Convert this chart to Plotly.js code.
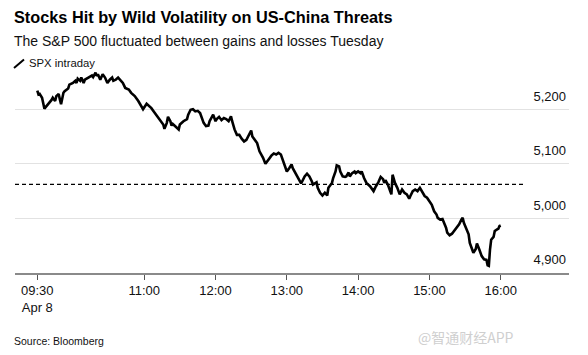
<!DOCTYPE html>
<html><head><meta charset="utf-8">
<script src="https://cdn.plot.ly/plotly-3.0.1.min.js"></script>
<style>html,body{margin:0;padding:0;background:#fff}#chart{width:588px;height:355px}</style>
</head><body><div id="chart"></div>
<script>
const sessionDate = "2025-04-08";
const minutesAfterOpen = [0,1,2,4,6,8,11,12,13,15,16,18,19,20,22,23,26,27,30,32,33,34,36,37,39,40,43,46,47,49,50,51,53,54,55,57,59,61,63,64,66,68,70,72,74,77,79,82,85,86,89,92,94,96,98,100,102,104,106,107,109,110,112,113,114,117,119,120,123,126,127,129,131,133,135,137,138,140,142,144,145,147,148,150,151,153,155,157,159,161,163,164,166,168,170,172,174,176,178,180,181,183,185,187,190,192,194,195,197,199,201,203,205,206,208,210,212,214,215,218,220,222,223,225,227,229,231,232,235,236,238,240,242,244,245,246,248,249,251,252,254,255,257,259,260,262,263,265,267,268,270,272,273,275,277,280,283,285,287,289,291,292,293,295,297,298,299,301,303,305,307,309,311,313,314,316,318,320,322,324,326,328,330,332,334,336,337,339,341,343,344,345,347,349,351,352,355,357,358,359,361,363,364,366,367,369,370,372,374,376,378,379,380,381,382,384,385,387,388,389,390];
const spxValues = [5234,5227,5228,5221,5201,5206,5215,5217,5221,5215,5224,5228,5218,5209,5230,5233,5238,5245,5248,5252,5248,5256,5252,5258,5248,5254,5258,5262,5259,5267,5261,5264,5254,5261,5264,5258,5248,5254,5258,5252,5254,5258,5252,5248,5239,5236,5230,5224,5215,5211,5200,5210,5206,5202,5196,5190,5184,5178,5172,5164,5175,5186,5178,5170,5173,5167,5163,5172,5178,5182,5190,5199,5200,5196,5197,5193,5186,5175,5169,5170,5178,5187,5190,5178,5182,5186,5180,5184,5182,5178,5187,5178,5163,5153,5153,5146,5141,5144,5153,5161,5150,5144,5138,5123,5111,5100,5105,5109,5115,5119,5117,5120,5117,5111,5099,5086,5092,5099,5092,5080,5072,5064,5068,5077,5082,5077,5068,5062,5066,5056,5047,5042,5047,5042,5056,5059,5065,5074,5086,5097,5095,5086,5077,5076,5077,5084,5077,5083,5086,5083,5086,5083,5086,5074,5065,5059,5050,5059,5066,5076,5072,5065,5070,5062,5047,5044,5080,5065,5056,5044,5053,5047,5044,5036,5041,5050,5053,5050,5056,5047,5041,5038,5031,5025,5013,5007,5001,4998,4999,4989,4983,4974,4969,4972,4977,4981,4989,4998,5001,4992,4980,4971,4955,4943,4937,4944,4954,4943,4931,4925,4924,4914,4913,4943,4961,4966,4977,4980,4981,4986,4987];
const prevClose = 5062.25;
const prevCloseSpan = ["09:11:14", "16:19:40"];
const xRange = ["09:11:14", "16:57:29"];
const tickTimes = ["09:30","11:00","12:00","13:00","14:00","15:00","16:00"];
const tickLabels = ["09:30<br>Apr 8","11:00","12:00","13:00","14:00","15:00","16:00"];
const yTicks = [4900,5000,5100,5200];
const yRange = [4900, 5270];

function toTime(m){
  const t = 9*60+30+m;
  const hh = String(Math.floor(t/60)).padStart(2,'0');
  const mm = String(t%60).padStart(2,'0');
  return sessionDate + " " + hh + ":" + mm + ":00";
}
const stamp = s => sessionDate + " " + (s.length===5 ? s+":00" : s);

const FONT = '"Liberation Sans", Arial, sans-serif';

const traces = [
  {x: prevCloseSpan.map(stamp), y: [prevClose, prevClose], mode:'lines',
   line:{color:'#000', width:1.3, dash:'4px,3px'}, hoverinfo:'skip', showlegend:false},
  {x: minutesAfterOpen.map(toTime), y: spxValues, mode:'lines',
   line:{color:'#000', width:2.6}, name:'SPX intraday', showlegend:false}
];

const L = 15, R = 569, T = 71, B = 273;
const px = v => (v - L)/(R - L);
const py = v => (B - v)/(B - T);

const layout = {
  width:588, height:355,
  margin:{l:L, r:588-R, t:T, b:355-B, pad:0},
  paper_bgcolor:'#fff', plot_bgcolor:'#fff',
  font:{family:FONT, color:'#111'},
  xaxis:{type:'date', range:xRange.map(stamp), tickmode:'array',
    tickvals:tickTimes.map(stamp), ticktext:tickLabels,
    ticks:'outside', ticklen:5, tickwidth:1, tickcolor:'#555',
    showgrid:false, showline:true, linecolor:'#8a8a8a', linewidth:1.5,
    zeroline:false, tickfont:{size:13, color:'#111'}, fixedrange:true},
  yaxis:{range:yRange, side:'right', tickmode:'array', tickvals:yTicks,
    tickformat:',', ticklabelposition:'inside top', ticklabelshift:-4, ticks:'',
    showgrid:true, gridcolor:'#e2e2e2', gridwidth:1, zeroline:false,
    showline:false, tickfont:{size:13, color:'#111'}, fixedrange:true},
  shapes:[
    {type:'line', xref:'paper', yref:'paper', x0:px(14), y0:py(68), x1:px(24), y1:py(59.5),
     line:{color:'#000', width:2}}
  ],
  annotations:[
    {text:'<b>Stocks Hit by Wild Volatility on US-China Threats</b>', xref:'paper', yref:'paper',
     x:px(12), y:py(17), xanchor:'left', yanchor:'middle', showarrow:false,
     font:{size:16.3, color:'#000', family:FONT}},
    {text:'The S&P 500 fluctuated between gains and losses Tuesday', xref:'paper', yref:'paper',
     x:px(12), y:py(40.5), xanchor:'left', yanchor:'middle', showarrow:false,
     font:{size:14, color:'#111', family:FONT}},
    {text:'SPX intraday', xref:'paper', yref:'paper',
     x:px(27), y:py(62.8), xanchor:'left', yanchor:'middle', showarrow:false,
     font:{size:11.3, color:'#111', family:FONT}},
    {text:'Source: Bloomberg', xref:'paper', yref:'paper',
     x:px(12), y:py(340.5), xanchor:'left', yanchor:'middle', showarrow:false,
     font:{size:10.5, color:'#111', family:FONT}},
    {text:'@智通财经APP', xref:'paper', yref:'paper',
     x:px(465.5), y:py(337), xanchor:'center', yanchor:'middle', showarrow:false,
     font:{size:14, color:'#cfcfcf', family:'"Noto Sans CJK SC", sans-serif'}}
  ]
};

Plotly.newPlot('chart', traces, layout, {displayModeBar:false, staticPlot:true});
</script>
</body></html>
